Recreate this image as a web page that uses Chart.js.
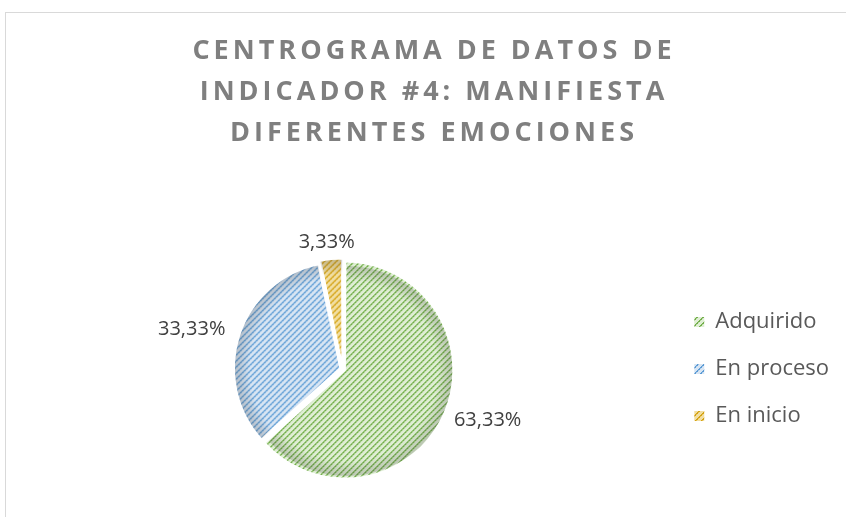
<!DOCTYPE html>
<html>
<head>
<meta charset="utf-8">
<script src="https://cdn.jsdelivr.net/npm/chart.js@4.4.1/dist/chart.umd.min.js"></script>
<style>
  html, body { margin: 0; padding: 0; background: #fff; }
</style>
</head>
<body>
<canvas id="pieChart" width="846" height="517"></canvas>
<script>
const categories = ['Adquirido', 'En proceso', 'En inicio'];
const percentValues = [63.33, 33.33, 3.33];
const titleLines = ['CENTROGRAMA DE DATOS DE', 'INDICADOR #4: MANIFIESTA', 'DIFERENTES EMOCIONES'];

const canvas = document.getElementById('pieChart');
const ctx = canvas.getContext('2d');

// diagonal dotted hatch like the Excel pattern fill
function hatch(bg, mid, dark) {
  const size = 6;
  const t = document.createElement('canvas');
  t.width = size; t.height = size;
  const g = t.getContext('2d');
  g.fillStyle = bg;
  g.fillRect(0, 0, size, size);
  for (let i = 0; i < size; i++) {
    g.fillStyle = i % 2 ? mid : dark;
    g.fillRect((i + 1) % size, size - 1 - i, 1, 1);
    g.fillStyle = dark;
    g.fillRect(i, size - 1 - i, 1, 1);
  }
  return ctx.createPattern(t, 'repeat');
}

const fills = [
  hatch('#dfeed4', '#a3cd86', '#72ae4a'),
  hatch('#d8e5f3', '#98bfe4', '#5b9bd5'),
  hatch('#f1dea2', '#e2bb45', '#d3a113')
];

const fmt = v => v.toFixed(2).replace('.', ',') + '%';

const frameAndTitle = {
  id: 'frameAndTitle',
  beforeDraw(chart) {
    const c = chart.ctx;
    c.save();
    c.strokeStyle = '#d9d9d9';
    c.lineWidth = 1;
    c.strokeRect(5.5, 12.5, chart.width, chart.height);
    c.font = 'bold 27px "Open Sans"';
    c.letterSpacing = '4px';
    c.fillStyle = '#7f7f7f';
    c.textAlign = 'center';
    c.textBaseline = 'middle';
    titleLines.forEach((line, i) => c.fillText(line, 434, 51 + i * 41));
    c.restore();
  }
};

// soft darker rim on each slice, plus outside-end percentage labels
const sliceExtras = {
  id: 'sliceExtras',
  afterDatasetsDraw(chart) {
    const c = chart.ctx;
    const meta = chart.getDatasetMeta(0);
    meta.data.forEach(arc => {
      const p = arc.getProps(['x', 'y', 'startAngle', 'endAngle', 'outerRadius', 'circumference'], true);
      const half = (p.startAngle + p.endAngle) / 2;
      const off = (arc.options.offset || 0) / 4;
      const fix = 1 - Math.sin(Math.min(Math.PI, p.circumference || 0));
      const shift = off * (1 + fix);
      const cx = p.x + Math.cos(half) * shift, cy = p.y + Math.sin(half) * shift;
      const r = p.outerRadius - 1;
      c.save();
      c.beginPath();
      c.moveTo(cx, cy);
      c.arc(cx, cy, r, p.startAngle, p.endAngle);
      c.closePath();
      c.clip();
      const g = c.createRadialGradient(cx, cy, r * 0.86, cx, cy, r);
      g.addColorStop(0, 'rgba(0,0,0,0)');
      g.addColorStop(1, 'rgba(60,60,60,0.22)');
      c.fillStyle = g;
      c.fillRect(cx - r, cy - r, r * 2, r * 2);
      c.restore();
    });

    c.save();
    c.font = '20px "Open Sans"';
    c.fillStyle = '#404040';
    c.textAlign = 'center';
    c.textBaseline = 'middle';
    meta.data.forEach((arc, i) => {
      const p = arc.getProps(['x', 'y', 'startAngle', 'endAngle', 'outerRadius'], true);
      const mid = (p.startAngle + p.endAngle) / 2;
      const dx = Math.cos(mid), dy = Math.sin(mid);
      const text = fmt(percentValues[i]);
      const w = c.measureText(text).width, h = 20;
      const r = p.outerRadius;
      c.fillText(text, p.x + dx * (r + 19 + w / 2), p.y + dy * (r + 11 + h / 2));
    });
    c.restore();
  }
};

new Chart(ctx, {
  type: 'pie',
  data: {
    labels: categories,
    datasets: [{
      data: percentValues,
      backgroundColor: fills,
      borderColor: '#ffffff',
      borderWidth: 2,
      offset: 10
    }]
  },
  options: {
    responsive: false,
    animation: false,
    layout: { padding: { top: 257, bottom: 36, left: 16, right: 7 } },
    plugins: {
      tooltip: { enabled: false },
      legend: {
        position: 'right',
        labels: {
          boxWidth: 10,
          boxHeight: 10,
          padding: 25,
          color: '#595959',
          font: { size: 22, family: 'Open Sans' },
          generateLabels: (chart) =>
            Chart.overrides.pie.plugins.legend.labels.generateLabels(chart)
              .map(l => ({ ...l, lineWidth: 0 }))
        }
      }
    }
  },
  plugins: [frameAndTitle, sliceExtras]
});
</script>
</body>
</html>
